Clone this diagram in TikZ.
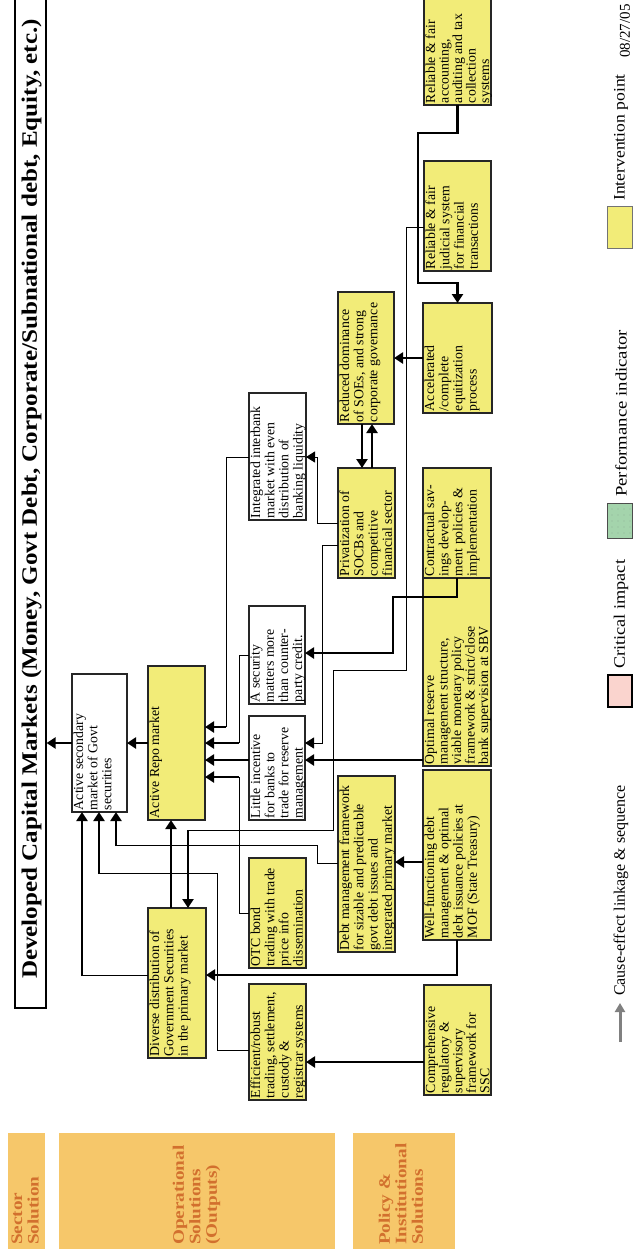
\documentclass[tikz,border=0pt]{standalone}
\usepackage{fontspec}
\setmainfont{Liberation Serif}
\usetikzlibrary{arrows.meta,patterns.meta}

\definecolor{boxyellow}{RGB}{242,236,120}
\definecolor{bandfill}{RGB}{246,199,106}
\definecolor{bandtext}{RGB}{210,112,46}
\definecolor{critpink}{RGB}{250,212,206}
\definecolor{perfgreen}{RGB}{164,212,172}
\definecolor{legendgray}{RGB}{128,128,128}

% box: [line spacing], name, x1, y1, x2, y2, style, text
% (text runs bottom-to-top, starting from the lower end of the box)
\newcommand\flowbox[8][14.2]{%
  \node[#7, minimum width={(#5-(#3))*1pt}, minimum height={(#6-(#4))*1pt}]
    (#2) at ({(#3+#5)/2},{(#4+#6)/2})
    {\rotatebox{90}{\parbox[c][\dimexpr #5pt-(#3pt)-3pt\relax][t]{\dimexpr #6pt-(#4pt)-4pt\relax}%
      {\raggedright\fontsize{13.8}{#1}\selectfont #8}}};}

\begin{document}
\begin{tikzpicture}[x=1pt,y=-1pt,
  ybox/.style={draw=black!85, line width=1.1pt, fill=boxyellow, inner sep=0pt, outer sep=0pt},
  wbox/.style={draw=black!85, line width=1.1pt, fill=white, inner sep=0pt, outer sep=0pt},
  thk/.style={line width=2.6pt},
  thn/.style={line width=1pt},
  >={Triangle[length=9pt,width=11pt]}]

\useasboundingbox (0,0) rectangle (633,1259);
\fill[white] (0,0) rectangle (633,1259);

% ---- title bar ----
\node[draw=black, line width=1.2pt, fill=white, minimum width=31pt, minimum height=1012pt, inner sep=0pt]
  (title) at (30.5,502) {};
\node[rotate=90, font=\fontsize{22}{24}\selectfont\bfseries, inner sep=0pt] at (31.5,499)
  {\scalebox{1.14}[1]{Developed Capital Markets (Money, Govt Debt, Corporate/Subnational debt, Equity, etc.)}};

% ---- category bands ----
\tikzset{band/.style={fill=bandfill, inner sep=0pt}}
\node[band, minimum width=37pt, minimum height=116pt] (sector) at (26.5,1191) {};
\node[band, minimum width=276pt, minimum height=116pt] (oper) at (197,1191) {};
\node[band, minimum width=102pt, minimum height=116pt] (policy) at (404,1191) {};
\tikzset{bandlabel/.style={rotate=90, anchor=west, text=bandtext,
  font=\fontsize{16}{16.5}\selectfont\bfseries, inner sep=0pt}}
\node[bandlabel] at (27,1245) {\scalebox{1.2}[1]{\begin{tabular}{@{}l@{}}Sector\\Solution\end{tabular}}};
\node[bandlabel] at (197,1245) {\scalebox{1.2}[1]{\begin{tabular}{@{}l@{}}Operational\\Solutions\\(Outputs)\end{tabular}}};
\node[bandlabel] at (403,1245) {\scalebox{1.2}[1]{\begin{tabular}{@{}l@{}}Policy \&\\Institutional\\Solutions\end{tabular}}};

% ---- boxes ----
\flowbox{secondary}{72}{674}{127}{812}{wbox}{Active secondary\\market of Govt\\securities}
\flowbox{repo}{148}{666}{205}{820}{ybox}{Active Repo market}
\flowbox{diverse}{148}{908}{206}{1058}{ybox}{Diverse distribution of\\Government Securities\\in the primary market}
\flowbox{efficient}{249}{984}{306}{1100}{ybox}{Efficient/robust\\trading, settlement,\\custody \&\\registrar systems}
\flowbox{otc}{249}{858}{306}{968}{ybox}{OTC bond\\trading with trade\\price info\\dissemination}
\flowbox{little}{249}{716}{305}{820}{wbox}{Little incentive\\for banks to\\trade for reserve\\management}
\flowbox{security}{249}{606}{305}{704}{wbox}{A security\\matters more\\than counter-\\party credit.}
\flowbox{interbank}{249}{393}{306}{520}{wbox}{Integrated interbank\\market with even\\distribution of\\banking liquidity}
\flowbox{debt}{338}{776}{395}{952}{ybox}{Debt management framework\\for sizable and predictable\\govt debt issues and\\integrated primary market}
\flowbox{privat}{338}{468}{395}{578}{ybox}{Privatization of\\SOCBs and\\competitive\\financial sector}
\flowbox{reduced}{338}{292}{394}{424}{ybox}{Reduced dominance\\of SOEs, and strong\\corporate governance}
\flowbox[13.6]{comp}{424}{985}{491}{1095}{ybox}{Comprehensive\\regulatory \&\\supervisory\\framework for\\SSC}
\flowbox{wellfunc}{423}{770}{491}{940}{ybox}{Well-functioning debt\\management \& optimal\\debt issuance policies at\\MOF (State Treasury)}
\flowbox[13.5]{optimal}{423}{555}{491}{766}{ybox}{Optimal reserve\\management structure,\\viable monetary policy\\framework \& strict/close\\bank supervision at SBV}
\flowbox{contract}{423}{468}{491}{578}{ybox}{Contractual sav-\\ings develop-\\ment policies \&\\implementation}
\flowbox{equit}{423}{303}{492}{413}{ybox}{Accelerated\\/complete\\equitization\\process}
\flowbox{judicial}{424}{161}{491}{271}{ybox}{Reliable \& fair\\judicial system\\for financial\\transactions}
\flowbox[13.5]{accounting}{424}{-3}{491}{105}{ybox}{Reliable \& fair\\accounting,\\auditing and tax\\collection\\systems}

% ---- connectors ----
\draw[thk,->] (secondary.west |- 0,743) -- (title.east |- 0,743);
\draw[thk,->] (repo.west |- 0,743) -- (secondary.east |- 0,743);

\draw[thn] (diverse.west |- 0,975) -- (82,975);
\draw[thk,->] (82,976) -- (secondary.south -| 82,0);
\draw[thn] (efficient.west |- 0,1050) -| (217,873) -- (99,873);
\draw[thk,->] (99,874) -- (secondary.south -| 99,0);
\draw[thn] (debt.west |- 0,863) -| (317,845) -- (116,845);
\draw[thk,->] (116,846) -- (secondary.south -| 116,0);

\draw[thk,->] (diverse.north -| 171,0) -- (repo.south -| 171,0);
\draw[thn] (judicial.west |- 0,227) -| (406,670) -| (333,830) -- (188,830);
\draw[thk,->] (188,830) -- (diverse.north -| 188,0);
\draw[thk,->] (wellfunc.south) |- (diverse.east |- 0,975);
\draw[thk,->] (wellfunc.west |- 0,862) -- (debt.east |- 0,862);
\draw[thk,->] (comp.west |- 0,1062) -- (efficient.east |- 0,1062);

\draw[thn] (interbank.west |- 0,457) -| (226,727);
\draw[thk,->] (226,727) -- (repo.east |- 0,727);
\draw[thn] (security.west |- 0,655) -| (239,743);
\draw[thk,->] (239,743) -- (repo.east |- 0,743);
\draw[thk,->] (little.west |- 0,760) -- (repo.east |- 0,760);
\draw[thn] (otc.west |- 0,913) -| (239,777);
\draw[thk,->] (239,777) -- (repo.east |- 0,777);

\draw[thn,->] (privat.west |- 0,523) -| (317,457) -- (interbank.east |- 0,457);
\draw[thn,->] (privat.west |- 0,545) -| (322,743) -- (little.east |- 0,743);
\draw[thk,->] (optimal.west |- 0,760) -- (little.east |- 0,760);
\draw[thk,->] (contract.south) |- (393,597) |- (security.east |- 0,653);

\draw[thk,->] (reduced.south -| 362,0) -- (privat.north -| 362,0);
\draw[thk,->] (privat.north -| 372,0) -- (reduced.south -| 372,0);
\draw[thk,->] (equit.west |- 0,358) -- (reduced.east |- 0,358);
\draw[thk,->] (accounting.south) -- ++(0,28) -| (418,283) -| (equit.north);

% ---- legend ----
\tikzset{legtext/.style={rotate=90, anchor=west, inner sep=0pt, font=\fontsize{16}{18}\selectfont}}
\coordinate (legtail) at (620,1042);
\coordinate (leghead) at (620,1003);
\draw[legendgray, line width=3pt, -{Triangle[length=9pt,width=10pt]}] (legtail) -- (leghead);
\node[legtext] at (621,996) {Cause-effect linkage \& sequence};
\node[draw=black, line width=2pt, fill=critpink, minimum width=24pt, minimum height=32pt, inner sep=0pt]
  (legcrit) at (620,691) {};
\node[legtext] at (621,669) {\scalebox{1.14}[1]{Critical impact}};
\node[draw=black!70, line width=1pt, fill=perfgreen, minimum width=25pt, minimum height=35pt, inner sep=0pt,
  postaction={pattern={Dots[distance=6pt,radius=0.45pt]}, pattern color=black!55}]
  (legperf) at (620,521) {};
\node[legtext] at (621,497) {\scalebox{1.17}[1]{Performance indicator}};
\node[draw=black!55, line width=1pt, fill=boxyellow, minimum width=25pt, minimum height=42pt, inner sep=0pt]
  (legint) at (620,227) {};
\node[legtext] at (621,201) {\scalebox{1.1}[1]{Intervention point}};
\node[legtext, font=\fontsize{15}{17}\selectfont] at (625,58) {08/27/05};
\end{tikzpicture}
\end{document}
